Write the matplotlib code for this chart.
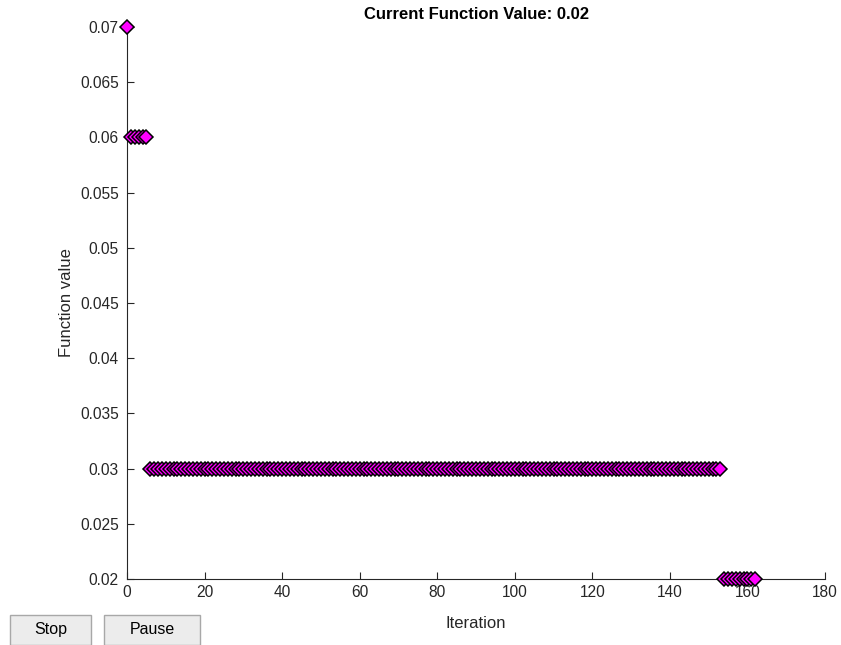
import matplotlib
matplotlib.use("Agg")
import matplotlib.pyplot as plt
from matplotlib.patches import Rectangle
import numpy as np

plt.rcParams['font.family'] = ['Liberation Sans', 'DejaVu Sans']

# Data: function value per iteration
iters_a = [0]
vals_a = [0.07]
iters_b = [1, 2, 3, 4, 5]
vals_b = [0.06] * 5
iters_c = list(range(6, 154))
vals_c = [0.03] * len(iters_c)
iters_d = list(range(154, 163))
vals_d = [0.02] * len(iters_d)

iterations = iters_a + iters_b + iters_c + iters_d
fvals = vals_a + vals_b + vals_c + vals_d

title_text = "Current Function Value: 0.02"
xticks = [0, 20, 40, 60, 80, 100, 120, 140, 160, 180]
yticks = [0.02, 0.025, 0.03, 0.035, 0.04, 0.045, 0.05, 0.055, 0.06, 0.065, 0.07]
ytick_labels = ["0.02", "0.025", "0.03", "0.035", "0.04", "0.045", "0.05",
                "0.055", "0.06", "0.065", "0.07"]

W, H = 841, 645
fig = plt.figure(figsize=(W / 100, H / 100), dpi=100)
fig.patch.set_facecolor('white')
ax = fig.add_axes([127 / W, 1 - 579 / H, (825 - 127) / W, (579 - 27) / H])

axcol = '#262626'
ax.plot(iterations, fvals, linestyle='none', marker='D', markersize=7.6,
        markerfacecolor='#ff00ff', markeredgecolor='black', markeredgewidth=1.1,
        clip_on=False, zorder=3)

ax.set_xlim(0, 180)
ax.set_ylim(0.02, 0.07)
ax.set_xticks(xticks)
ax.set_xticklabels([str(t) for t in xticks])
ax.set_yticks(yticks)
ax.set_yticklabels(ytick_labels)

for s in ['top', 'right']:
    ax.spines[s].set_visible(False)
for s in ['left', 'bottom']:
    ax.spines[s].set_color(axcol)
    ax.spines[s].set_linewidth(0.8)

ax.tick_params(direction='in', length=5, width=0.8, colors=axcol,
               labelsize=11.2, labelcolor=axcol)
ax.tick_params(axis='y', pad=6)
ax.tick_params(axis='x', pad=4)

ax.set_xlabel("Iteration", fontsize=12, color=axcol, labelpad=12)
ax.set_ylabel("Function value", fontsize=12, color=axcol, labelpad=4)
ax.set_title(title_text, fontsize=12, fontweight='bold', color='black', pad=6)

# Buttons
for (x0, x1, label) in [(10, 91, "Stop"), (104, 200, "Pause")]:
    rect = Rectangle((x0 / W, 0), (x1 - x0) / W, 30 / H, transform=fig.transFigure,
                     facecolor='#ececec', edgecolor='#a8a8a8', linewidth=1.0)
    fig.patches.append(rect)
    fig.text((x0 + x1) / 2 / W, 11 / H, label, ha='center', va='baseline',
             fontsize=11.5, color='black')

fig.savefig("out.png", dpi=100)
